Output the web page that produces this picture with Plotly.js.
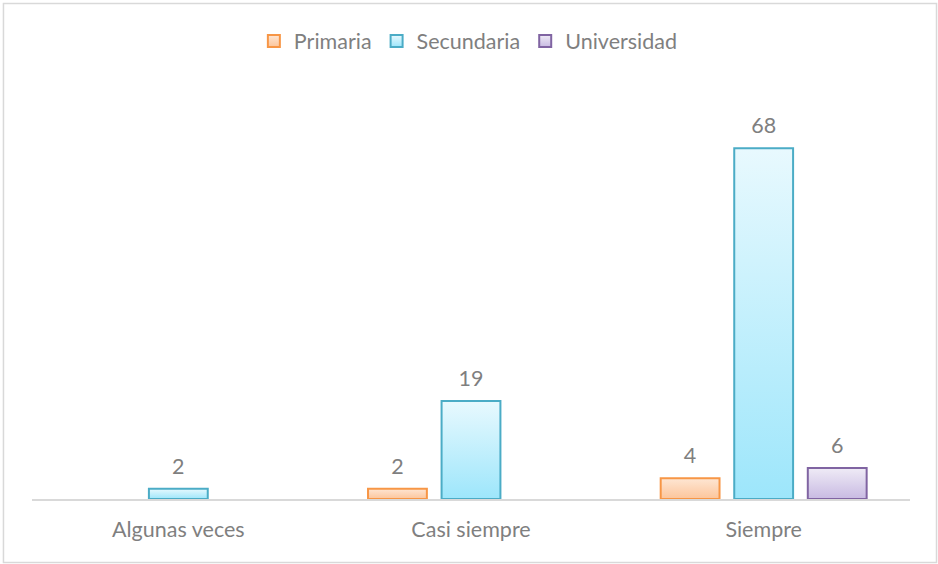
<!DOCTYPE html>
<html>
<head>
<meta charset="utf-8">
<script src="https://cdn.plot.ly/plotly-3.0.1.min.js"></script>
<style>html,body{margin:0;padding:0;background:#fff;}#chart{width:938px;height:564px;}</style>
</head>
<body>
<div id="chart"></div>
<script>
const categories = ["Algunas veces", "Casi siempre", "Siempre"];
const seriesNames = ["Primaria", "Secundaria", "Universidad"];
const primaria = [null, 2, 4];
const secundaria = [2, 19, 68];
const universidad = [null, null, 6];

const values = [primaria, secundaria, universidad];
const lineColors = ["#f79646", "#4bacc6", "#8064a2"];
const midColors = ["#fdd5b6", "#c3eefc", "#dbd2ec"];
const gradStops = [["#fee6d3", "#fcc59b"], ["#e8f9fe", "#9de6fb"], ["#efebf6", "#c8bae2"]];
const FONT = "Lato, 'Liberation Sans', sans-serif";
const GREY = "#7f7f7f";
const FS = 21.5;
const BARGAP = 0.246;

const traces = [];
values.forEach((v, i) => {
  traces.push({
    type: "bar", name: seriesNames[i], x: categories, y: v,
    marker: {color: midColors[i], line: {color: lineColors[i], width: 2}},
    hoverinfo: "skip"
  });
});
values.forEach((v, i) => {
  traces.push({
    type: "scatter", mode: "markers+text", x: categories, y: v,
    text: v.map(d => d === null ? "" : String(d)),
    textposition: "top center",
    textfont: {family: FONT, size: FS, color: GREY},
    marker: {size: 14, color: "rgba(0,0,0,0)"},
    showlegend: false, hoverinfo: "skip", cliponaxis: false
  });
});

const layout = {
  width: 938, height: 564,
  margin: {l: 32, r: 28, t: 138, b: 65},
  paper_bgcolor: "#ffffff", plot_bgcolor: "#ffffff",
  barmode: "group", bargap: BARGAP, bargroupgap: 0.2,
  scattermode: "group", scattergap: BARGAP,
  font: {family: FONT, size: FS, color: GREY},
  showlegend: true,
  legend: {orientation: "h", x: 0.497, xanchor: "center", y: 1.2687, yanchor: "middle",
           font: {family: FONT, size: FS, color: GREY}, itemwidth: 30, traceorder: "normal"},
  xaxis: {type: "category", showline: true, linecolor: "#d9d9d9", linewidth: 2,
          ticks: "", showgrid: false, zeroline: false, ticklabelstandoff: 10,
          tickfont: {family: FONT, size: FS, color: GREY}, fixedrange: true},
  yaxis: {range: [0, 70], visible: false, showgrid: false, zeroline: false, fixedrange: true},
  shapes: [{type: "rect", xref: "paper", yref: "paper",
            x0: -0.0325, x1: 1.0302, y0: -0.1759, y1: 1.3726,
            line: {color: "#d9d9d9", width: 1.5}, fillcolor: "rgba(0,0,0,0)", layer: "below"}]
};

function applyGradients(gd) {
  const ns = "http://www.w3.org/2000/svg";
  const svg = gd.querySelector("svg.main-svg");
  let defs = svg.querySelector("defs");
  if (!defs) { defs = document.createElementNS(ns, "defs"); svg.insertBefore(defs, svg.firstChild); }
  gradStops.forEach((s, i) => {
    const g = document.createElementNS(ns, "linearGradient");
    g.setAttribute("id", "bargrad" + i);
    g.setAttribute("x1", "0"); g.setAttribute("y1", "0");
    g.setAttribute("x2", "0"); g.setAttribute("y2", "1");
    [[0, s[0]], [1, s[1]]].forEach(([o, c]) => {
      const st = document.createElementNS(ns, "stop");
      st.setAttribute("offset", o); st.setAttribute("stop-color", c);
      g.appendChild(st);
    });
    defs.appendChild(g);
  });
  gd.querySelectorAll(".barlayer .trace").forEach((t, i) => {
    t.querySelectorAll("path").forEach(p => { p.style.fill = "url(#bargrad" + i + ")"; });
  });
  gd.querySelectorAll(".legend .traces").forEach((t, i) => {
    t.querySelectorAll(".legendpoints path").forEach(p => { p.style.fill = "url(#bargrad" + i + ")"; });
  });
}

Plotly.newPlot("chart", traces, layout, {displayModeBar: false, staticPlot: true}).then(applyGradients);
</script>
</body>
</html>
